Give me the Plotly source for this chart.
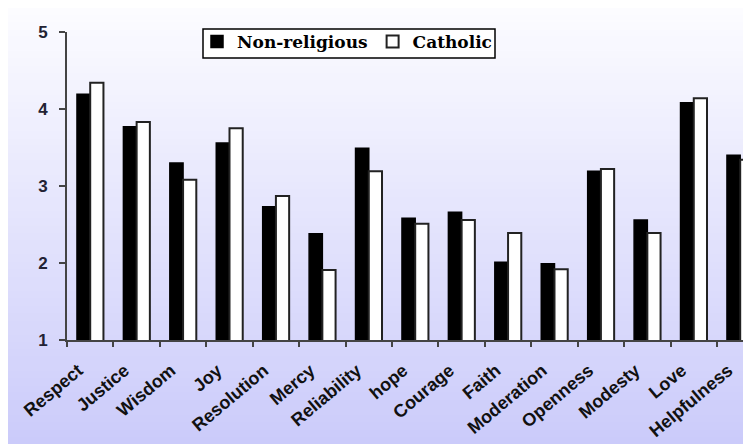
import plotly.graph_objects as go

categories = ["Respect", "Justice", "Wisdom", "Joy", "Resolution", "Mercy", "Reliability",
              "hope", "Courage", "Faith", "Moderation", "Openness", "Modesty", "Love", "Helpfulness"]
non_religious = [4.19, 3.77, 3.30, 3.56, 2.73, 2.38, 3.49, 2.58, 2.66, 2.01, 1.99, 3.19, 2.56, 4.08, 3.40]
catholic = [4.34, 3.83, 3.08, 3.75, 2.87, 1.91, 3.19, 2.51, 2.56, 2.39, 1.92, 3.22, 2.39, 4.14, 3.34]
y_ticks = [1, 2, 3, 4, 5]

# the page body has an 8px margin; lay out in screenshot pixels and shift
OFF = 8
SW, SH = 751, 444          # screenshot size
W, H = SW - OFF, SH - OFF  # figure size
# plot area in screenshot pixels
PX0, PX1, PY0, PY1 = 67, 751, 32, 340
L, R, T, B = PX0 - OFF, SW - PX1, PY0 - OFF, SH - PY1
plot_w = PX1 - PX0
plot_h = PY1 - PY0
cat_px = 46.4  # pixel width of one category


def px_x(p):
    return (p - PX0) / plot_w


def px_y(p):
    return (PY1 - p) / plot_h


fig = go.Figure()
fig.add_trace(go.Bar(name="Non-religious", x=categories, y=non_religious,
                     marker=dict(color="black", line=dict(color="black", width=1.5))))
fig.add_trace(go.Bar(name="Catholic", x=categories, y=catholic,
                     marker=dict(color="white", line=dict(color="#222222", width=2))))

# vertical gradient background (white -> lavender)
shapes = []
n = 60
top_c = (252, 252, 255)
bot_c = (203, 203, 250)
for i in range(n):
    p0 = OFF + i * H / n
    p1 = OFF + (i + 1) * H / n + 0.6
    t = (i + 0.5) / n
    c = tuple(int(round(top_c[k] + (bot_c[k] - top_c[k]) * t)) for k in range(3))
    shapes.append(dict(type="rect", xref="paper", yref="paper", layer="below",
                       x0=px_x(OFF), x1=px_x(SW + 5), y0=px_y(p1), y1=px_y(p0 - 0.3),
                       line=dict(width=0), fillcolor="rgb(%d,%d,%d)" % c))

# legend box
shapes.append(dict(type="rect", xref="paper", yref="paper", layer="above",
                   x0=px_x(203), x1=px_x(495), y0=px_y(58), y1=px_y(29),
                   line=dict(color="black", width=1.5), fillcolor="white"))

x_end = 13.5 + (PX1 - 717) / cat_px

fig.update_layout(
    width=W, height=H,
    margin=dict(l=L, r=R, t=T, b=B, pad=0),
    paper_bgcolor="white", plot_bgcolor="rgba(0,0,0,0)",
    barmode="group", bargap=0.43, bargroupgap=0,
    shapes=shapes,
    showlegend=True,
    legend=dict(orientation="h", x=px_x(197), y=px_y(24),
                xanchor="left", yanchor="top",
                bgcolor="rgba(0,0,0,0)", borderwidth=0,
                font=dict(family="DejaVu Serif", size=17, color="black", weight="bold"),
                itemwidth=30, tracegroupgap=0, traceorder="normal"),
    xaxis=dict(type="category", range=[-0.5, x_end], automargin=False,
               showline=True, linecolor="#444444", linewidth=2,
               ticks="outside", tickson="boundaries", ticklen=5, tickwidth=2, tickcolor="#444444",
               tickangle=-40, showgrid=False, ticklabelshift=-12, ticklabelstandoff=11,
               tickfont=dict(family="Liberation Sans", size=18, color="#111111", weight="bold")),
    yaxis=dict(range=[1, 5], tickvals=y_ticks, automargin=False,
               showline=True, linecolor="#444444", linewidth=2,
               ticks="outside", ticklen=6, tickwidth=2, tickcolor="#444444",
               ticklabelstandoff=8,
               showgrid=False, zeroline=False,
               tickfont=dict(family="Liberation Sans", size=17, color="#222233", weight="bold")),
)

fig.write_html("out.html")
